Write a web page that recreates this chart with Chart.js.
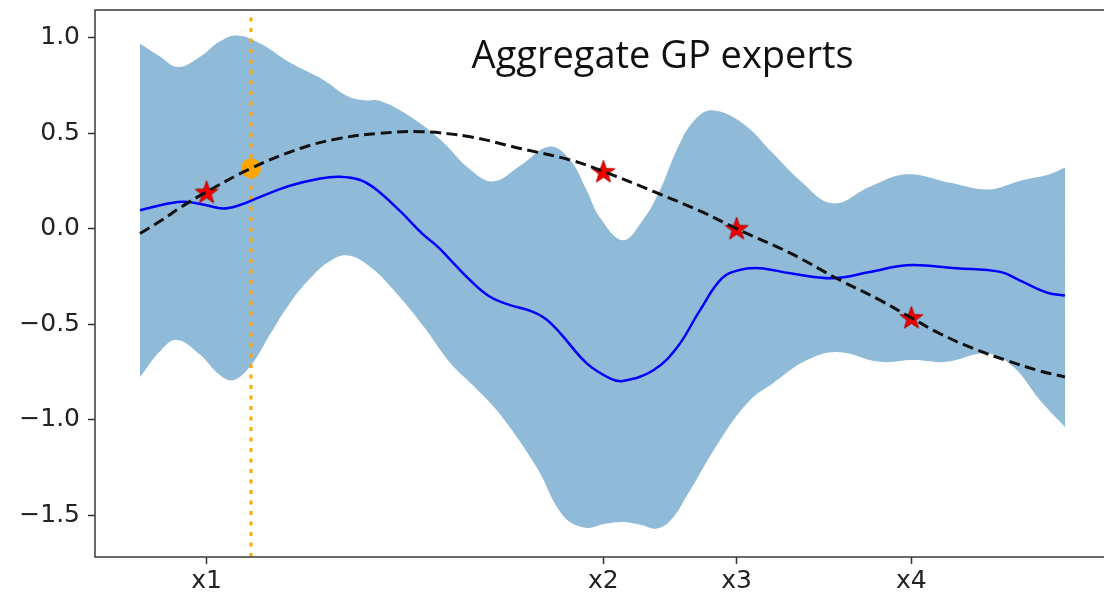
<!DOCTYPE html>
<html>
<head>
<meta charset="utf-8">
<script src="https://cdn.jsdelivr.net/npm/chart.js@4/dist/chart.umd.min.js"></script>
<style>
  html, body { margin: 0; padding: 0; background: #fff; overflow: hidden; }
  #wrap { width: 1140px; height: 596px; }
</style>
</head>
<body>
<div id="wrap"><canvas id="gp" width="1140" height="596"></canvas></div>
<script>
// posterior mean of the aggregated experts
const meanX = [0, 0.32, 0.49, 0.71, 0.90, 1.08, 1.30, 1.62, 1.95, 2.16, 2.38, 2.54, 2.81, 3.06, 3.22, 3.35, 3.57, 3.78, 4.00, 4.22, 4.38,
               4.54, 4.83, 5.08, 5.22, 5.55, 5.81, 6.05, 6.29, 6.49, 6.70, 7.03, 7.49, 7.89, 8.29, 8.83, 9.30, 9.51, 9.81, 10];
const meanY = [0.097, 0.133, 0.141, 0.124, 0.106, 0.124, 0.167, 0.225, 0.263, 0.272, 0.255, 0.21, 0.093, -0.03, -0.095, -0.16, -0.27, -0.355, -0.40, -0.43, -0.47,
               -0.545, -0.705, -0.783, -0.797, -0.741, -0.619, -0.43, -0.26, -0.215, -0.207, -0.233, -0.259, -0.227, -0.191, -0.207, -0.226, -0.27, -0.335, -0.35];

// confidence band, upper and lower edges
const upperX = [0, 0.22, 0.41, 0.65, 0.86, 1.05, 1.30, 1.62, 1.98, 2.24, 2.43, 2.59, 2.89, 3.24, 3.57, 3.82, 4.11, 4.43, 4.65, 4.82,
                4.97, 5.22, 5.43, 5.62, 5.81, 5.98, 6.18, 6.52, 6.84, 7.14, 7.49, 7.89, 8.29, 8.76, 9.17, 9.51, 9.84, 10];
const upperY = [0.97, 0.90, 0.846, 0.90, 0.98, 1.012, 0.97, 0.87, 0.78, 0.695, 0.672, 0.67, 0.597, 0.47, 0.31, 0.248, 0.33, 0.43, 0.36, 0.21,
                0.06, -0.06, 0.04, 0.2, 0.42, 0.56, 0.62, 0.55, 0.396, 0.25, 0.133, 0.22, 0.285, 0.24, 0.205, 0.25, 0.286, 0.32];
const lowerX = [0, 0.22, 0.40, 0.65, 0.86, 1.01, 1.20, 1.41, 1.62, 1.84, 2.05, 2.25, 2.49, 2.74, 3.06, 3.35, 3.62, 3.89, 4.29, 4.57,
                4.81, 5.03, 5.22, 5.41, 5.59, 5.75, 5.91, 6.27, 6.59, 6.84, 7.21, 7.54, 8.00, 8.36, 8.72, 9.16, 9.44, 9.73, 10];
const lowerY = [-0.777, -0.64, -0.582, -0.66, -0.765, -0.793, -0.715, -0.55, -0.39, -0.26, -0.17, -0.14, -0.2, -0.32, -0.508, -0.70, -0.83, -0.97, -1.25, -1.50,
                -1.565, -1.545, -1.535, -1.55, -1.57, -1.52, -1.40, -1.107, -0.9, -0.81, -0.688, -0.645, -0.697, -0.688, -0.697, -0.653, -0.723, -0.898, -1.038];

// true function (dashed)
const trueX = [0, 0.22, 0.45, 0.71, 1.20, 1.73, 2.16, 2.59, 3.03, 3.57, 4.11, 4.65, 5.02, 5.55, 6.09, 6.45, 7.03, 7.57, 8.00, 8.34, 8.65, 9.00, 9.37, 9.73, 10];
const trueY = [-0.025, 0.04, 0.115, 0.19, 0.316, 0.42, 0.473, 0.499, 0.508, 0.481, 0.42, 0.36, 0.298, 0.195, 0.085, 0.0, -0.128, -0.27, -0.374, -0.467, -0.55, -0.625, -0.69, -0.745, -0.776];

// training points and their tick labels
const obsX = [0.72, 5.01, 6.45, 8.34];
const obsY = [0.19, 0.298, 0.0, -0.467];
const obsNames = ['x1', 'x2', 'x3', 'x4'];

// query point
const queryX = [1.2];
const queryY = [0.316];

const yTicks = [-1.5, -1.0, -0.5, 0.0, 0.5, 1.0];
const xRange = [-0.4865, 10.703];
const yRange = [-1.7187, 1.145];

const titleText = 'Aggregate GP experts';
const titleAt = [5.65, 0.84];

const pts = (xs, ys) => xs.map((x, i) => ({ x: x, y: ys[i] }));

function starImage(r) {
  const c = document.createElement('canvas');
  const s = Math.ceil(r * 2 + 4);
  c.width = c.height = s;
  const g = c.getContext('2d');
  g.translate(s / 2, s / 2 + r * 0.05);
  g.beginPath();
  for (let i = 0; i < 10; i++) {
    const rad = i % 2 ? r * 0.4 : r;
    const a = -Math.PI / 2 + i * Math.PI / 5;
    g.lineTo(rad * Math.cos(a), rad * Math.sin(a));
  }
  g.closePath();
  g.fillStyle = '#f20000';
  g.fill();
  g.strokeStyle = '#b00000';
  g.lineWidth = 1;
  g.stroke();
  return c;
}

const frame = {
  id: 'frame',
  afterDraw(chart) {
    const { ctx, chartArea: a, scales } = chart;
    ctx.save();
    ctx.strokeStyle = '#3a3a3a';
    ctx.lineWidth = 1.5;
    ctx.strokeRect(a.left, a.top, a.right - a.left, a.bottom - a.top);
    ctx.font = '38px "Open Sans", sans-serif';
    ctx.fillStyle = '#111';
    ctx.textAlign = 'center';
    ctx.textBaseline = 'alphabetic';
    ctx.fillText(titleText, scales.x.getPixelForValue(titleAt[0]), scales.y.getPixelForValue(titleAt[1]));
    ctx.restore();
  }
};

const tickFont = { family: 'DejaVu Sans', size: 25 };
const gridCfg = { drawOnChartArea: false, drawTicks: true, tickLength: 7, tickColor: '#333', tickWidth: 1.5 };
const curve = { tension: 0.4, pointRadius: 0, fill: false };

new Chart(document.getElementById('gp'), {
  type: 'line',
  data: {
    datasets: [
      Object.assign({}, curve, {
        data: pts(upperX, upperY), fill: '+1', backgroundColor: 'rgba(31,119,180,0.5)',
        borderColor: 'transparent', borderWidth: 0, order: 6
      }),
      Object.assign({}, curve, {
        data: pts(lowerX, lowerY), borderColor: 'transparent', borderWidth: 0, order: 6
      }),
      {
        data: pts([queryX[0], queryX[0]], yRange), borderColor: '#ffa500', borderWidth: 3,
        borderDash: [4, 6.5], pointRadius: 0, fill: false, order: 5
      },
      Object.assign({}, curve, {
        data: pts(meanX, meanY), borderColor: '#0000ff', borderWidth: 2.5, order: 4
      }),
      {
        data: pts(queryX, queryY), showLine: false, pointRadius: 10, pointBackgroundColor: '#ffa500',
        pointBorderWidth: 0, order: 3
      },
      {
        data: pts(obsX, obsY), showLine: false, pointStyle: starImage(12), order: 2
      },
      Object.assign({}, curve, {
        data: pts(trueX, trueY), borderColor: '#111', borderWidth: 3, borderDash: [11, 5.5], order: 1
      })
    ]
  },
  options: {
    responsive: false,
    animation: false,
    events: [],
    layout: { padding: { top: 10, left: 0, right: 0, bottom: 0 } },
    plugins: { legend: { display: false }, tooltip: { enabled: false } },
    scales: {
      x: {
        type: 'linear', min: xRange[0], max: xRange[1],
        afterFit(s) { s.height = 39; s.paddingLeft = 0; s.paddingRight = 0; },
        afterBuildTicks(s) { s.ticks = obsX.map(v => ({ value: v })); },
        ticks: { callback: (v, i) => obsNames[i], font: tickFont, color: '#222', padding: 2, maxRotation: 0, autoSkip: false },
        grid: gridCfg,
        border: { display: false }
      },
      y: {
        type: 'linear', min: yRange[0], max: yRange[1],
        afterFit(s) { s.width = 95; s.paddingTop = 0; s.paddingBottom = 0; },
        afterBuildTicks(s) { s.ticks = yTicks.map(v => ({ value: v })); },
        ticks: {
          callback: v => (v < 0 ? '\u2212' : '') + Math.abs(v).toFixed(1),
          font: tickFont, color: '#222', padding: 8, autoSkip: false
        },
        grid: gridCfg,
        border: { display: false }
      }
    }
  },
  plugins: [frame]
});
</script>
</body>
</html>
